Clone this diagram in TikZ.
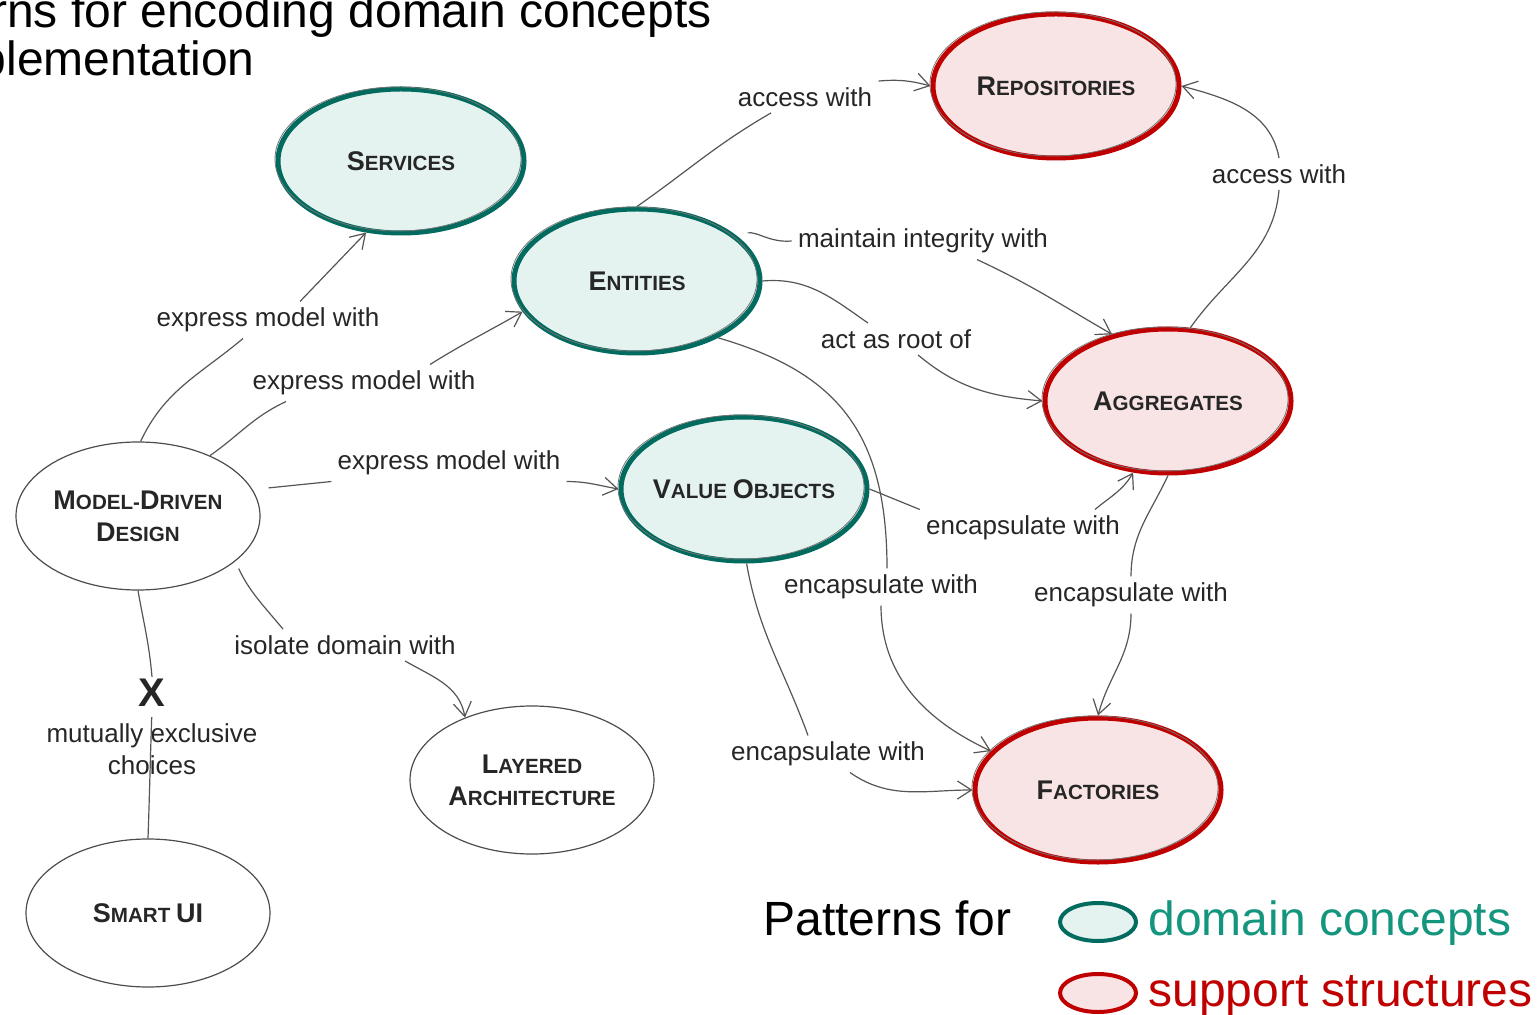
\documentclass[tikz,border=0pt]{standalone}
\usepackage{fontspec}
\setmainfont{Liberation Sans}
\usetikzlibrary{shapes.geometric,arrows.meta}

\definecolor{domline}{HTML}{006B5E}
\definecolor{domfill}{HTML}{E4F3F0}
\definecolor{supline}{HTML}{C00000}
\definecolor{supfill}{HTML}{F8E4E4}
\definecolor{domtext}{HTML}{13967D}
\definecolor{linkgray}{HTML}{555555}

% small capitals made by hand
\newcommand{\sck}[2]{{\fontsize{13.5}{16}\selectfont #1}{\fontsize{10.3}{16}\selectfont #2}}

\tikzset{
  concept/.style={ellipse, minimum width=123pt, minimum height=72pt, inner xsep=-12pt, inner ysep=0pt,
    align=center, font=\bfseries\fontsize{10.3}{16}\selectfont, text=black!85},
  sketchy/.style={postaction={draw=black!55, line width=0.4pt, transform canvas={shift={(-1.5pt,1pt)}}}},
  domconcept/.style={concept, draw=domline, fill=domfill, line width=2.5pt, sketchy},
  supstruct/.style={concept, draw=supline, fill=supfill, line width=2.5pt, sketchy},
  plainconcept/.style={concept, draw=black!70, line width=0.6pt, minimum width=122pt, minimum height=74pt},
  legkey/.style={ellipse, minimum width=38pt, minimum height=19pt, line width=2pt},
  lbl/.style={font=\fontsize{13}{16}\selectfont, inner sep=3pt, text=black!85, align=center},
  bigtext/.style={font=\fontsize{24}{28}\selectfont, inner sep=0pt},
  link/.style={draw=linkgray, line width=0.6pt},
  linkto/.style={link, -{Straight Barb[length=7pt,width=9pt]}},
}

\begin{document}
\begin{tikzpicture}[x=0.5pt,y=0.5pt]
	\useasboundingbox (0,0) rectangle (1540,-1015);
	\clip (0,0) rectangle (1540,-1015);
	
	% Title
	\node[bigtext, anchor=base east] (title1) at (712,-28) {rns for encoding domain concepts};
	\node[bigtext, anchor=base east] (title2) at (255,-76) {plementation};
	
	% Patterns
	\node[plainconcept] (mdd) at (138,-516) {\sck{M}{ODEL}-\sck{D}{RIVEN}\\\sck{D}{ESIGN}};
	\node[domconcept] (srv) at (401,-161) {\sck{S}{ERVICES}};
	\node[domconcept] (ent) at (637,-281) {\sck{E}{NTITIES}};
	\node[domconcept] (vo) at (744,-489) {\sck{V}{ALUE} \sck{O}{BJECTS}};
	\node[supstruct] (rep) at (1056,-86) {\sck{R}{EPOSITORIES}};
	\node[supstruct] (agg) at (1168,-401) {\sck{A}{GGREGATES}};
	\node[supstruct] (fac) at (1098,-790) {\sck{F}{ACTORIES}};
	\node[plainconcept] (la) at (532,-780) {\sck{L}{AYERED}\\\sck{A}{RCHITECTURE}};
	\node[plainconcept] (sui) at (148,-913) {\sck{S}{MART} \sck{UI}{}};
	
	% Link labels
	\node[lbl] (lSrv) at (268,-320) {express model with};
	\node[lbl] (lEnt) at (364,-383) {express model with};
	\node[lbl] (lVo) at (449,-463) {express model with};
	\node[lbl] (lLa) at (345,-645) {isolate domain with};
	\node[lbl, font=\bfseries\fontsize{20}{22}\selectfont, inner sep=1pt] (x) at (152,-693) {X};
	\node[lbl] (lMut) at (152,-749) {mutually exclusive\\choices};
	\node[lbl] (lRepE) at (805,-97) {access with};
	\node[lbl] (lInt) at (923,-241) {maintain integrity with};
	\node[lbl] (lRoot) at (896,-339) {act as root of};
	\node[lbl] (lFacE) at (881,-587) {encapsulate with};
	\node[lbl] (lAggV) at (1023,-528) {encapsulate with};
	\node[lbl] (lFacV) at (828,-754) {encapsulate with};
	\node[lbl] (lFacA) at (1131,-595) {encapsulate with};
	\node[lbl] (lRepA) at (1279,-174) {access with};
	
	% Model-Driven Design links
	\draw[link] (mdd.88) to[out=65,in=220] ([xshift=-12.5pt]lSrv.south);
	\draw[linkto] ([xshift=16pt]lSrv.north) -- (srv.244);
	\draw[link] (mdd.40) to[out=35,in=205] ([xshift=-39pt]lEnt.south);
	\draw[linkto] ([xshift=33pt]lEnt.north) to[out=32,in=210] (ent.195);
	\draw[link, shorten <=8pt] (mdd.13) -- (lVo.south west);
	\draw[linkto] (lVo.south east) to[out=0,in=170] (vo.west);
	\draw[link, shorten <=4pt] (mdd.-25) to[out=-65,in=130] ([xshift=-31pt]lLa.north);
	\draw[linkto] ([xshift=30pt]lLa.south) to[out=-30,in=100] (la.137);
	\draw[link] (mdd.south) to[out=-80,in=95] (x.north);
	\draw[link, shorten <=4pt] (x.south) to[out=-92,in=88] (sui.north);
	
	% Entities links
	\draw[link] (ent.90) to[out=35,in=-150] ([xshift=-17pt]lRepE.south);
	\draw[linkto] (lRepE.north east) to[out=5,in=165] (rep.west);
	\draw[link, shorten <=6pt] (ent.25) to[out=10,in=185] (lInt.west);
	\draw[linkto] ([xshift=27pt]lInt.south) to[out=-25,in=150] (agg.130);
	\draw[link] (ent.east) to[out=5,in=145] ([xshift=-14pt]lRoot.north);
	\draw[linkto] ([xshift=11pt]lRoot.south) to[out=-40,in=175] (agg.west);
	\draw[link] (ent.-35) .. controls (835,-372) and (887,-430) .. ([xshift=3pt]lFacE.north);
	\draw[linkto] (lFacE.south) to[out=-90,in=155] (fac.160);
	
	% Value Objects links
	\draw[link] (vo.east) -- (lAggV.north west);
	\draw[linkto] ([xshift=36pt]lAggV.north) to[out=40,in=240] (agg.244);
	\draw[link] (vo.-88) to[out=-80,in=110] ([xshift=-10pt]lFacV.north);
	\draw[linkto] ([xshift=11pt]lFacV.south) to[out=-35,in=180] (fac.west);
	
	% Aggregates links
	\draw[link] (agg.south) to[out=-115,in=90] (lFacA.north);
	\draw[linkto] (lFacA.south) to[out=-90,in=75] (fac.north);
	\draw[link] (agg.73) to[out=55,in=-95] (lRepA.south);
	\draw[linkto] (lRepA.north) to[out=100,in=-15] (rep.east);
	
	% Legend
	\node[bigtext, anchor=base west] (legTitle) at (763,-935) {Patterns for};
	\node[legkey, draw=domline, fill=domfill] (legDom) at (1098,-922) {};
	\node[bigtext, anchor=base west, text=domtext] (legDomTxt) at (1148,-935) {domain concepts};
	\node[legkey, draw=supline, fill=supfill] (legSup) at (1098,-993) {};
	\node[bigtext, anchor=base west, text=supline] (legSupTxt) at (1148,-1006) {support structures};
\end{tikzpicture}
\end{document}
